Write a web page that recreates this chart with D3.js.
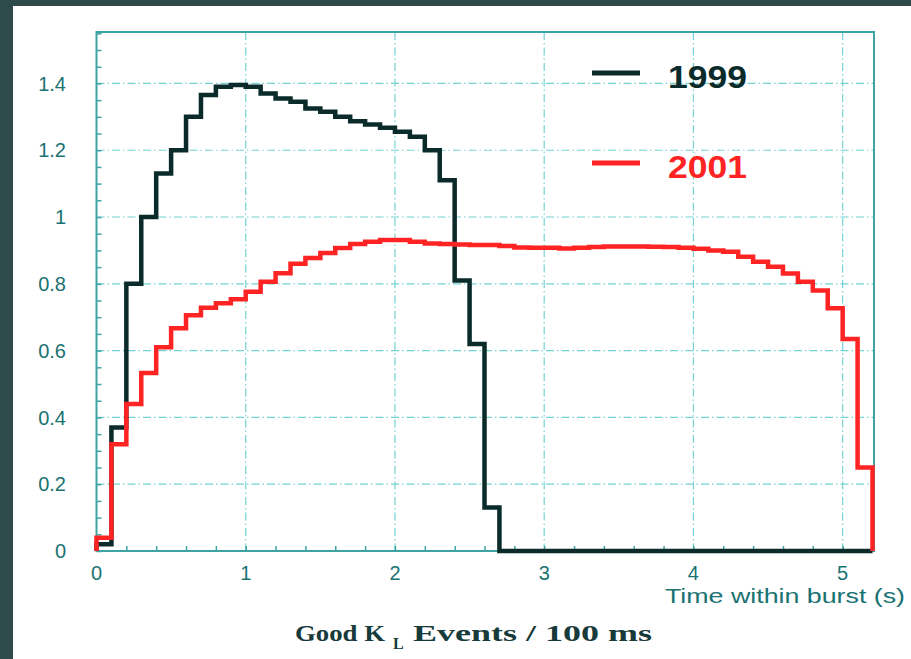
<!DOCTYPE html>
<html>
<head>
<meta charset="utf-8">
<script src="https://cdn.jsdelivr.net/npm/d3@7"></script>
<style>
  html, body { margin: 0; padding: 0; background: #2f4a4b; }
  svg { display: block; }
</style>
</head>
<body>
<div class="chart"></div>
<script>
// Bin contents per 100 ms
const bin_width = 0.1;
const counts_1999 = [0.02, 0.37, 0.80, 1.00, 1.13, 1.20, 1.30, 1.365, 1.39, 1.395,
   1.39, 1.37, 1.355, 1.345, 1.325, 1.315, 1.30, 1.287, 1.277, 1.267,
   1.255, 1.24, 1.20, 1.11, 0.81, 0.62, 0.13, 0, 0, 0,
   0, 0, 0, 0, 0, 0, 0, 0, 0, 0,
   0, 0, 0, 0, 0, 0, 0, 0, 0, 0,
   0, 0];
const counts_2001 = [0.04, 0.32, 0.44, 0.533, 0.61, 0.667, 0.706, 0.728, 0.742, 0.754,
   0.776, 0.806, 0.832, 0.86, 0.877, 0.892, 0.907, 0.919, 0.926, 0.931,
   0.931, 0.926, 0.921, 0.919, 0.918, 0.916, 0.916, 0.913, 0.909, 0.908,
   0.908, 0.906, 0.908, 0.91, 0.912, 0.912, 0.912, 0.911, 0.91, 0.908,
   0.905, 0.90, 0.896, 0.881, 0.866, 0.851, 0.831, 0.806, 0.78, 0.727,
   0.635, 0.25];
const series_names = ['1999', '2001'];
const x_ticks = [0, 1, 2, 3, 4, 5];
const y_ticks = [0, 0.2, 0.4, 0.6, 0.8, 1, 1.2, 1.4];

const W = 911, H = 659;
const teal = '#1a7272';
const frame_col = '#3ea3a3';
const grid_col = '#74d2d2';

const svg = d3.select('.chart').append('svg')
   .attr('width', W).attr('height', H);

// white panel
svg.append('rect')
   .attr('x', 13).attr('y', 6)
   .attr('width', W - 13).attr('height', H - 6)
   .attr('fill', '#fff');

const plot = {left: 96.5, right: 874, top: 32, bottom: 551};

const x_scale = d3.scaleLinear().domain([0, 5.21]).range([plot.left, plot.right]);
const y_scale = d3.scaleLinear().domain([0, 1.554]).range([plot.bottom, plot.top]);

// grid
const grid = svg.append('g').attr('class', 'grid')
   .attr('stroke', grid_col).attr('stroke-width', 1.2)
   .attr('stroke-dasharray', '8,3,1.5,3');
grid.selectAll('.vg').data(x_ticks.filter(d => d > 0)).join('line')
   .attr('x1', d => x_scale(d)).attr('x2', d => x_scale(d))
   .attr('y1', plot.top).attr('y2', plot.bottom);
grid.selectAll('.hg').data(y_ticks.filter(d => d > 0)).join('line')
   .attr('y1', d => y_scale(d)).attr('y2', d => y_scale(d))
   .attr('x1', plot.left).attr('x2', plot.right);

// axes (ticks inside the frame)
const x_axis = d3.axisBottom(x_scale)
   .tickValues(d3.range(0, 5.21, 0.2))
   .tickSizeInner(-5).tickSizeOuter(0).tickFormat('');
const y_axis = d3.axisLeft(y_scale)
   .tickValues(d3.range(0, 1.554, 0.05))
   .tickSizeInner(-5).tickSizeOuter(0).tickFormat('');

const gx = svg.append('g').attr('transform', `translate(0,${plot.bottom})`).call(x_axis);
const gy = svg.append('g').attr('transform', `translate(${plot.left},0)`).call(y_axis);
[gx, gy].forEach(g => {
   g.select('.domain').remove();
   g.selectAll('.tick line').attr('stroke', frame_col).attr('stroke-width', 1.5);
});

svg.append('rect')
   .attr('x', plot.left).attr('y', plot.top)
   .attr('width', plot.right - plot.left).attr('height', plot.bottom - plot.top)
   .attr('fill', 'none').attr('stroke', frame_col).attr('stroke-width', 2);

// tick labels
svg.append('g').selectAll('text').data(y_ticks).join('text')
   .attr('x', 66).attr('y', d => y_scale(d))
   .attr('dy', '0.36em')
   .attr('text-anchor', 'end')
   .attr('font-family', 'Liberation Sans, Arial, sans-serif')
   .attr('font-size', 20).attr('fill', teal)
   .text(d => d);

svg.append('g').selectAll('text').data(x_ticks).join('text')
   .attr('x', d => x_scale(d)).attr('y', 580)
   .attr('text-anchor', 'middle')
   .attr('font-family', 'Liberation Sans, Arial, sans-serif')
   .attr('font-size', 20).attr('fill', teal)
   .text(d => d);

svg.append('text')
   .attr('x', 665).attr('y', 603)
   .attr('font-family', 'Liberation Sans, Arial, sans-serif')
   .attr('font-size', 20).attr('fill', teal)
   .attr('textLength', 240).attr('lengthAdjust', 'spacingAndGlyphs')
   .text('Time within burst (s)');

// histograms
function hist_points(counts) {
   const pts = [[0, 0]];
   counts.forEach((v, i) => pts.push([i * bin_width, v]));
   pts.push([counts.length * bin_width, 0]);
   return pts;
}

const step_line = d3.line()
   .x(d => x_scale(d[0]))
   .y(d => y_scale(d[1]))
   .curve(d3.curveStepAfter);

const colors = ['#0b2b2b', '#ff2424'];

// 1999 first, 2001 drawn on top
svg.append('path')
   .attr('d', step_line(hist_points(counts_1999)))
   .attr('fill', 'none').attr('stroke', colors[0]).attr('stroke-width', 4.5);

svg.append('path')
   .attr('d', step_line(hist_points(counts_2001)))
   .attr('fill', 'none').attr('stroke', colors[1]).attr('stroke-width', 4.5);

// legend
const legend_y = [73, 163];
const legend = svg.append('g').selectAll('g').data(series_names).join('g');
legend.append('line')
   .attr('x1', 592).attr('x2', 640)
   .attr('y1', (d, i) => legend_y[i]).attr('y2', (d, i) => legend_y[i])
   .attr('stroke', (d, i) => colors[i]).attr('stroke-width', 5);
legend.append('text')
   .attr('x', 668).attr('y', (d, i) => legend_y[i] + 15)
   .attr('font-family', 'Liberation Sans, Arial, sans-serif')
   .attr('font-weight', 'bold').attr('font-size', 31)
   .attr('textLength', 79).attr('lengthAdjust', 'spacingAndGlyphs')
   .attr('fill', (d, i) => colors[i])
   .text(d => d);

// caption
const cap = svg.append('g')
   .attr('font-family', 'Liberation Serif, Times New Roman, serif')
   .attr('font-weight', 'bold').attr('fill', '#173a3a');
cap.append('text').attr('x', 295).attr('y', 641).attr('font-size', 23)
   .attr('textLength', 90).attr('lengthAdjust', 'spacingAndGlyphs')
   .text('Good K');
cap.append('text').attr('x', 393).attr('y', 649).attr('font-size', 16)
   .text('L');
cap.append('text').attr('x', 413).attr('y', 641).attr('font-size', 23)
   .attr('textLength', 239).attr('lengthAdjust', 'spacingAndGlyphs')
   .text('Events / 100 ms');
</script>
</body>
</html>
